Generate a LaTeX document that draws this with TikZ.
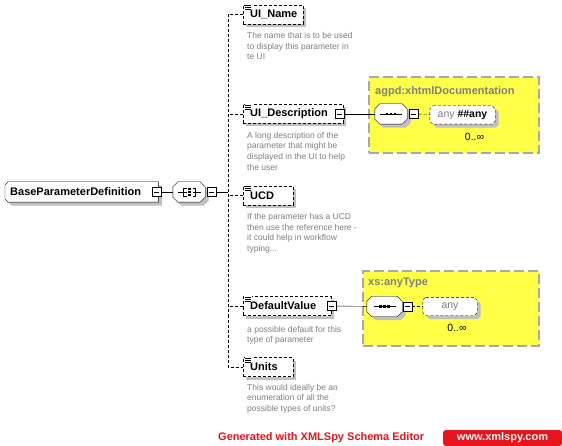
\documentclass[tikz,border=0pt]{standalone}
\usepackage{fontspec}
\setmainfont{Liberation Sans}
\usetikzlibrary{positioning, shadows}

\definecolor{descgray}{HTML}{808080}
\definecolor{shadowgray}{HTML}{C0C0C0}
\definecolor{boxyellow}{HTML}{FFFF48}
\definecolor{framegray}{HTML}{A8A8A8}
\definecolor{xmlred}{HTML}{E8141B}

\pgfdeclarelayer{back}
\pgfdeclarelayer{shapes}
\pgfsetlayers{back,shapes,main}

\tikzset{
  shadowed/.style={general shadow={fill=shadowgray, shadow xshift=#1, shadow yshift=-#1}},
  elem/.style={draw, dash pattern=on 3pt off 2pt, fill=white, minimum height=19pt,
    inner xsep=7pt, inner ysep=0pt, text width=#1, align=left, anchor=west,
    font=\fontsize{11}{13}\selectfont\bfseries, shadowed=3pt},
  minusbox/.style={draw, solid, fill=white, minimum size=9pt, inner sep=0pt,
    path picture={\draw ([xshift=2pt]path picture bounding box.west) -- ([xshift=-2pt]path picture bounding box.east);}},
  comp/.style={minimum width=#1, minimum height=20pt, inner sep=0pt},
  anyel/.style={minimum width=#1, minimum height=18pt, inner sep=1pt, font=\fontsize{10.5}{12}\selectfont},
  desc/.style={font=\fontsize{8.5}{10.7}\selectfont, text=descgray, align=left, inner sep=0pt},
  ybox/.style={draw=framegray, line width=1.6pt, dash pattern=on 10pt off 4pt, fill=boxyellow,
    anchor=north west, inner sep=0pt},
  ytitle/.style={font=\fontsize{11}{13}\selectfont\bfseries, text=descgray, inner sep=0pt},
  occ/.style={font=\fontsize{10.5}{12}\selectfont, inner sep=0pt},
  trunk/.style={dash pattern=on 3pt off 2pt}
}

% annotation mark at the top left of an element box
\newcommand{\docicon}[1]{%
  \fill[white] ([shift={(1.5,-0.5)}]#1.north west) rectangle ([shift={(8.5,5.5)}]#1.north west);
  \foreach \dy in {0.5,2.5,4.5}
    \draw ([shift={(2,\dy)}]#1.north west) -- ++(6,0);
}

% chamfered outline with shadow under a node: [style]{node}{left chamfer}{right chamfer}
\newcommand{\chamf}[4][]{%
  \begin{pgfonlayer}{shapes}
  \foreach \sh/\st in {3.5/{fill=shadowgray}, 0/{fill=white,draw,#1}}
    {\path[transform canvas={shift={(\sh pt,-\sh pt)}}, style/.expanded=\st]
      ([xshift=#3pt]#2.north west) -- ([xshift=-#4pt]#2.north east) -- ([yshift=-#4pt]#2.north east)
      -- ([yshift=#4pt]#2.south east) -- ([xshift=-#4pt]#2.south east) -- ([xshift=#3pt]#2.south west)
      -- ([yshift=#3pt]#2.south west) -- ([yshift=-#3pt]#2.north west) -- cycle;}
  \end{pgfonlayer}}

\begin{document}
\begin{tikzpicture}[x=1pt, y=-1pt, line width=0.8pt]
\begin{pgfonlayer}{back}
\useasboundingbox[fill=white] (0,0) rectangle (562,446);
% yellow type boxes
\node[ybox, minimum width=170pt, minimum height=76pt] (docbox) at (368,76) {};
\node[ybox, minimum width=176pt, minimum height=75pt] (typebox) at (362,270) {};
\end{pgfonlayer}
\node[ytitle, below right=10pt and 7pt of docbox.north west] (doctitle) {agpd:xhtmlDocumentation};
\node[ytitle, below right=8pt and 6pt of typebox.north west] (typetitle) {xs:anyType};

% root element and its compositor
\node[minimum height=20pt, inner xsep=5pt, inner ysep=0pt, text width=143pt, align=left,
  anchor=west, font=\fontsize{11}{13}\selectfont\bfseries] (bpd) at (5,192) {BaseParameterDefinition};
\chamf{bpd}{3}{0}
\node[minusbox] (bpdm) at ([xshift=-1.5pt]bpd.east) {};
\node[comp=32pt] (allc) at (189,192) {};
\chamf{allc}{5}{5}
\node[minusbox, right=1.5pt of allc] (allcm) {};
\begin{scope}[shift={(allc.center)}]
  \draw (-11,0) -- (-5.5,0) (-2.5,-4) -- (-5.5,-4) -- (-5.5,4) -- (-2.5,4) (-5.5,0) -- (-2.5,0);
  \draw (12,0) -- (6.5,0) (3.5,-4) -- (6.5,-4) -- (6.5,4) -- (3.5,4) (6.5,0) -- (3.5,0);
  \foreach \dy in {-3,0,3}
    \fill (-0.7,\dy-1.2) rectangle (1.7,\dy+1.2);
\end{scope}
\draw (bpdm) -- (allc);

% child elements
\node[elem=46pt] (uiname) at (243,14.5) {UI\_Name};
\node[elem=86pt] (uidesc) at (243,114) {UI\_Description};
\node[minusbox] (uidescm) at ([xshift=-4pt]uidesc.east) {};
\node[elem=36pt] (ucd) at (243,195.5) {UCD};
\node[elem=74pt] (defval) at (243,306) {DefaultValue};
\node[minusbox] (defvalm) at (defval.east) {};
\node[elem=36pt] (units) at (243,367) {Units};
\foreach \e in {uiname,uidesc,ucd,defval,units}
  {\docicon{\e}}

\node[desc, below right=8pt and 4pt of uiname.south west] (uinamedesc) {The name that is to be used\\to display this parameter in\\te UI};
\node[desc, below right=8pt and 4pt of uidesc.south west] (uidescdesc) {A long description of the\\parameter that might be\\displayed in the UI to help\\the user};
\node[desc, below right=8pt and 4pt of ucd.south west] (ucddesc) {If the parameter has a UCD\\then use the reference here -\\it could help in workflow\\typing...};
\node[desc, below right=10pt and 4pt of defval.south west] (defvaldesc) {a possible default for this\\type of parameter};
\node[desc, below right=7pt and 4pt of units.south west] (unitsdesc) {This would ideally be an\\enumeration of all the\\possible types of units?};

% trunk
\coordinate (trunk) at (228,192);
\draw (allcm) -- (allcm.east -| trunk);
\draw[trunk] (uiname.west) -- (uiname.west -| trunk) -- (units.west -| trunk) -- (units.west);
\foreach \e in {uidesc,ucd,defval}
  \draw[trunk] (\e.west) -- (\e.west -| trunk);

% xhtml documentation content
\node[comp=32pt] (seq1) at (391,114) {};
\chamf{seq1}{5}{5}
\node[minusbox, right=2pt of seq1] (seq1m) {};
\node[anyel=65pt] (any1) at (462.5,115) {\textcolor{descgray}{any} \textbf{\#\#any}};
\chamf[trunk]{any1}{3}{3}
\node[occ] (any1occ) at ([shift={(12,22)}]any1.center) {0..∞};
\draw (uidescm) -- (seq1);
\draw[trunk] (seq1m) -- (any1);

% anyType content
\node[comp=35pt] (seq2) at (384.5,306.5) {};
\chamf{seq2}{5}{5}
\node[minusbox, right=0.5pt of seq2] (seq2m) {};
\node[anyel=54pt] (any2) at (450,306.5) {\textcolor{descgray}{any}};
\chamf[trunk]{any2}{3}{3}
\node[occ] (any2occ) at ([shift={(7,21.5)}]any2.center) {0..∞};
\draw (defvalm) -- (seq2);
\draw[trunk] (seq2m) -- (any2);
\foreach \s in {seq1,seq2}
  {\begin{scope}[shift={(\s.center)}]
    \draw (-11,0) -- (11,0);
    \foreach \dx in {-4,0,4}
      \fill (\dx-1.3,-1.3) rectangle (\dx+1.3,1.3);
  \end{scope}}

% footer
\node[font=\fontsize{11}{13}\selectfont\bfseries, text=xmlred, anchor=west, inner sep=0pt] (generated) at (218,437.5) {Generated with XMLSpy Schema Editor};
\node[fill=xmlred, text=white, minimum width=119pt, minimum height=16pt, rounded corners=3pt,
  inner sep=0pt, font=\fontsize{11}{13}\selectfont\bfseries] (weblink) at (502.5,438) {www.xmlspy.com};
\end{tikzpicture}
\end{document}
